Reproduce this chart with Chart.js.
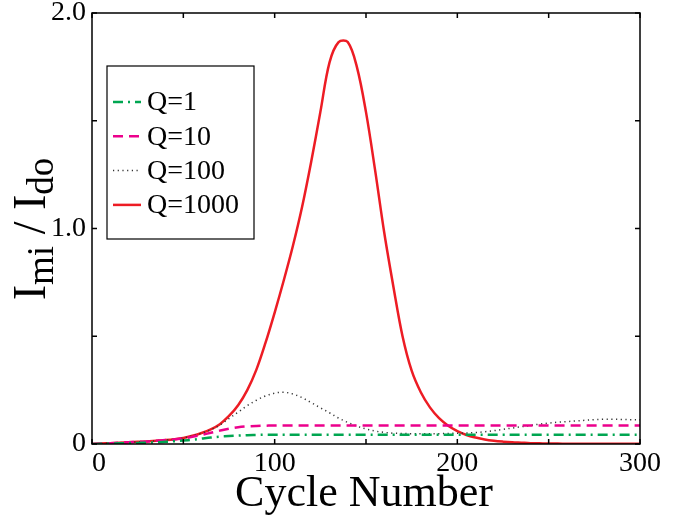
<!DOCTYPE html>
<html>
<head>
<meta charset="utf-8">
<script src="https://cdn.jsdelivr.net/npm/chart.js@4/dist/chart.umd.min.js"></script>
<style>
  html, body { margin: 0; padding: 0; background: #fff; }
  #wrap { width: 694px; height: 517px; }
</style>
</head>
<body>
<div id="wrap"><canvas id="QChart" width="694" height="517"></canvas></div>
<script>
// x values (cycle number)
const cycles = [0, 5, 10, 15, 20, 25, 30, 35, 40, 45, 50, 55, 60, 65, 70, 75, 80, 85, 90, 95,
    100, 105, 110, 115, 120, 125, 130, 135, 140, 145, 150, 155, 160, 165, 170, 175, 180, 185, 190, 195,
    200, 205, 210, 215, 220, 225, 230, 235, 240, 245, 250, 255, 260, 265, 270, 275, 280, 285, 290, 295, 300];

// Imi / Ido
const q1 = [0, 0.001, 0.002, 0.003, 0.004, 0.005, 0.006, 0.008, 0.010, 0.013, 0.016, 0.020, 0.025, 0.030, 0.034, 0.037, 0.039, 0.041, 0.042, 0.043,
    0.043, 0.043, 0.043, 0.043, 0.043, 0.043, 0.043, 0.043, 0.043, 0.043, 0.043, 0.043, 0.043, 0.043, 0.043, 0.043, 0.043, 0.043, 0.043, 0.043,
    0.043, 0.043, 0.043, 0.043, 0.043, 0.043, 0.043, 0.043, 0.043, 0.043, 0.043, 0.043, 0.043, 0.043, 0.043, 0.043, 0.043, 0.043, 0.043, 0.043, 0.043];
const q10 = [0, 0.002, 0.004, 0.006, 0.008, 0.010, 0.012, 0.015, 0.018, 0.021, 0.026, 0.033, 0.042, 0.052, 0.062, 0.071, 0.078, 0.082, 0.084, 0.085,
    0.086, 0.086, 0.086, 0.086, 0.086, 0.086, 0.086, 0.086, 0.086, 0.086, 0.086, 0.086, 0.086, 0.086, 0.086, 0.086, 0.086, 0.086, 0.086, 0.086,
    0.086, 0.086, 0.086, 0.086, 0.086, 0.086, 0.086, 0.086, 0.086, 0.086, 0.086, 0.086, 0.086, 0.086, 0.086, 0.086, 0.086, 0.086, 0.086, 0.086, 0.086];
const q100 = [0, 0.002, 0.004, 0.006, 0.008, 0.010, 0.012, 0.015, 0.018, 0.022, 0.028, 0.038, 0.050, 0.066, 0.088, 0.118, 0.148, 0.178, 0.203, 0.223,
    0.236, 0.240, 0.232, 0.215, 0.192, 0.168, 0.145, 0.120, 0.100, 0.083, 0.070, 0.060, 0.054, 0.050, 0.049, 0.048, 0.048, 0.048, 0.048, 0.049,
    0.050, 0.051, 0.053, 0.057, 0.062, 0.068, 0.074, 0.080, 0.086, 0.092, 0.097, 0.101, 0.104, 0.107, 0.110, 0.113, 0.115, 0.115, 0.114, 0.113, 0.112];
const q1000 = [0, 0.002, 0.004, 0.006, 0.008, 0.010, 0.012, 0.015, 0.018, 0.022, 0.028, 0.038, 0.051, 0.068, 0.092, 0.130, 0.180, 0.250, 0.345, 0.470,
    0.610, 0.760, 0.920, 1.100, 1.310, 1.540, 1.770, 1.865, 1.865, 1.750, 1.540, 1.270, 0.980, 0.730, 0.500, 0.340, 0.240, 0.170, 0.120, 0.085,
    0.060, 0.042, 0.030, 0.021, 0.015, 0.011, 0.008, 0.006, 0.004, 0.003, 0.002, 0.002, 0.001, 0.001, 0.001, 0.001, 0.001, 0.001, 0.001, 0.001, 0.001];

const seriesLabels = ['Q=1', 'Q=10', 'Q=100', 'Q=1000'];
const xMajor = [0, 50, 100, 150, 200, 250, 300];
const yMajor = [0, 0.5, 1.0, 1.5, 2.0];

const serif = '"Liberation Serif", "DejaVu Serif", serif';

function toPoints(values) {
    return cycles.map((c, i) => ({ x: c, y: values[i] }));
}

// frame, inward ticks, axis titles and the boxed legend
const framePlugin = {
    id: 'frame',
    afterDraw(chart) {
        const ctx = chart.ctx;
        const a = chart.chartArea;
        const xs = chart.scales.x, ys = chart.scales.y;
        ctx.save();
        ctx.strokeStyle = '#000';
        ctx.lineWidth = 1.5;
        ctx.strokeRect(a.left, a.top, a.right - a.left, a.bottom - a.top);
        ctx.beginPath();
        xMajor.forEach(v => {
            const px = xs.getPixelForValue(v);
            ctx.moveTo(px, a.bottom); ctx.lineTo(px, a.bottom - 5);
            ctx.moveTo(px, a.top); ctx.lineTo(px, a.top + 5);
        });
        yMajor.forEach(v => {
            const py = ys.getPixelForValue(v);
            ctx.moveTo(a.left, py); ctx.lineTo(a.left + 5, py);
            ctx.moveTo(a.right, py); ctx.lineTo(a.right - 5, py);
        });
        ctx.stroke();

        ctx.fillStyle = '#000';
        // first x tick label sits inside, left-aligned on the axis
        ctx.font = '28px ' + serif;
        ctx.textAlign = 'left';
        ctx.textBaseline = 'middle';
        ctx.fillText('0', a.left, a.bottom + 20);

        // x title
        ctx.font = '44px ' + serif;
        ctx.textAlign = 'center';
        ctx.textBaseline = 'alphabetic';
        ctx.fillText('Cycle Number', (a.left + a.right) / 2 - 2, 506);

        // y title with subscripts
        const parts = [['I', 46, 0], ['mi', 37, 8], [' / ', 46, 0], ['I', 46, 0], ['do', 37, 8]];
        let total = 0;
        parts.forEach(p => { ctx.font = p[1] + 'px ' + serif; total += ctx.measureText(p[0]).width; });
        ctx.translate(45, 229);
        ctx.rotate(-Math.PI / 2);
        ctx.textAlign = 'left';
        let pos = -total / 2;
        parts.forEach(p => {
            ctx.font = p[1] + 'px ' + serif;
            ctx.fillText(p[0], pos, p[2]);
            pos += ctx.measureText(p[0]).width;
        });
        ctx.restore();

        // legend box
        ctx.save();
        const lx = a.left + 15, ly = a.top + 53, lw = 147, lh = 173;
        ctx.fillStyle = '#fff';
        ctx.fillRect(lx, ly, lw, lh);
        ctx.strokeStyle = '#000';
        ctx.lineWidth = 1.2;
        ctx.strokeRect(lx, ly, lw, lh);
        ctx.font = '28px ' + serif;
        ctx.textBaseline = 'middle';
        chart.data.datasets.forEach((ds, i) => {
            const cy = ly + 36 + i * 34.3;
            ctx.beginPath();
            ctx.strokeStyle = ds.borderColor;
            ctx.lineWidth = ds.borderWidth;
            ctx.setLineDash(ds.borderDash || []);
            ctx.moveTo(lx + 6, cy);
            ctx.lineTo(lx + 34, cy);
            ctx.stroke();
            ctx.setLineDash([]);
            ctx.fillStyle = '#000';
            ctx.fillText(ds.label, lx + 40, cy + 1);
        });
        ctx.restore();
    }
};

window.onload = () => {
    const chartCanvas = document.getElementById('QChart').getContext('2d');
    new Chart(chartCanvas, {
        type: 'line',
        data: {
            datasets: [{
                label: seriesLabels[0],
                data: toPoints(q1),
                borderColor: '#00a651',
                borderWidth: 2.5,
                borderDash: [10, 5, 2, 5]
            }, {
                label: seriesLabels[1],
                data: toPoints(q10),
                borderColor: '#ec008c',
                borderWidth: 2.5,
                borderDash: [10, 6]
            }, {
                label: seriesLabels[2],
                data: toPoints(q100),
                borderColor: '#333333',
                borderWidth: 1.5,
                borderDash: [1.2, 3.5]
            }, {
                label: seriesLabels[3],
                data: toPoints(q1000),
                borderColor: '#ed1c24',
                borderWidth: 2.5
            }]
        },
        options: {
            responsive: false,
            animation: false,
            events: [],
            layout: { padding: { top: 13, right: 54, left: 0, bottom: 0 } },
            elements: {
                point: { radius: 0 },
                line: { tension: 0.35, fill: false }
            },
            plugins: {
                legend: { display: false },
                tooltip: { enabled: false }
            },
            scales: {
                x: {
                    type: 'linear',
                    min: 0,
                    max: 300,
                    grid: { display: false, drawTicks: false },
                    border: { display: false },
                    ticks: {
                        stepSize: 100,
                        padding: 6,
                        color: '#000',
                        maxRotation: 0,
                        font: { family: serif, size: 28, lineHeight: 1 },
                        callback: (v) => v === 0 ? '' : String(v)
                    },
                    afterFit(s) { s.height = 73; s.paddingLeft = 0; s.paddingRight = 0; }
                },
                y: {
                    min: 0,
                    max: 2,
                    grid: { display: false, drawTicks: false },
                    border: { display: false },
                    ticks: {
                        stepSize: 1,
                        padding: 6,
                        color: '#000',
                        font: { family: serif, size: 28, lineHeight: 1 },
                        callback: (v) => v === 0 ? '0' : v.toFixed(1)
                    },
                    afterFit(s) { s.width = 92; s.paddingTop = 0; s.paddingBottom = 0; }
                }
            }
        },
        plugins: [framePlugin]
    });
};
</script>
</body>
</html>
